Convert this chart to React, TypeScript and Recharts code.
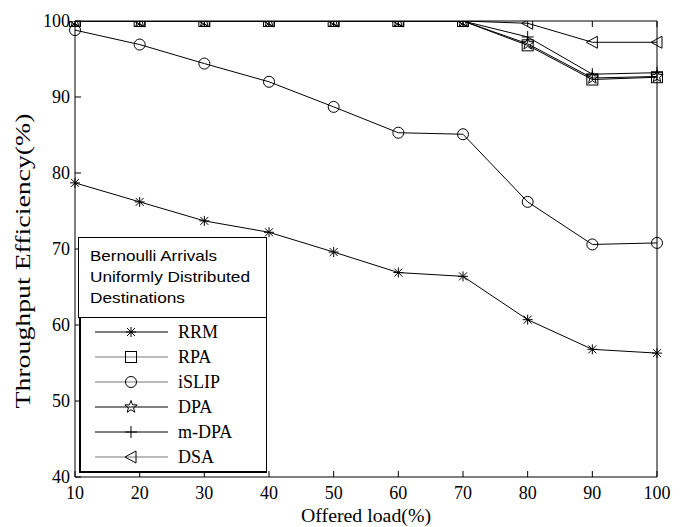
import { LineChart, Line, XAxis, YAxis } from 'recharts';

const loads = [10, 20, 30, 40, 50, 60, 70, 80, 90, 100];
const rrm = [78.7, 76.2, 73.7, 72.2, 69.6, 66.9, 66.4, 60.7, 56.8, 56.3];
const rpa = [100, 100, 100, 100, 100, 100, 100, 96.8, 92.3, 92.6];
const islip = [98.8, 96.9, 94.4, 92.0, 88.7, 85.3, 85.1, 76.2, 70.6, 70.8];
const dpa = [100, 100, 100, 100, 100, 100, 100, 97.0, 92.5, 92.7];
const mdpa = [100, 100, 100, 100, 100, 100, 100, 97.9, 93.0, 93.2];
const dsa = [100, 100, 100, 100, 100, 100, 100, 99.7, 97.2, 97.2];

const xTicks = [10, 20, 30, 40, 50, 60, 70, 80, 90, 100];
const yTicks = [40, 50, 60, 70, 80, 90, 100];

const legendNote = ['Bernoulli Arrivals', 'Uniformly Distributed', 'Destinations'];
const noteWidths = [127, 160, 95];

type Shape = 'star' | 'square' | 'circle' | 'pentagram' | 'plus' | 'triangle';

const series: { key: string; name: string; values: number[]; shape: Shape; legendColor: string }[] = [
  { key: 'rrm', name: 'RRM', values: rrm, shape: 'star', legendColor: '#000' },
  { key: 'rpa', name: 'RPA', values: rpa, shape: 'square', legendColor: '#777' },
  { key: 'islip', name: 'iSLIP', values: islip, shape: 'circle', legendColor: '#777' },
  { key: 'dpa', name: 'DPA', values: dpa, shape: 'pentagram', legendColor: '#000' },
  { key: 'mdpa', name: 'm-DPA', values: mdpa, shape: 'plus', legendColor: '#000' },
  { key: 'dsa', name: 'DSA', values: dsa, shape: 'triangle', legendColor: '#777' },
];

const data = loads.map((load, i) => {
  const row: Record<string, number> = { load };
  series.forEach((s) => { row[s.key] = s.values[i]; });
  return row;
});

const SERIF = '"Times New Roman", "Liberation Serif", serif';
const SANS = 'Arial, "Liberation Sans", sans-serif';
const TICK = 6;

function marker(shape: Shape, cx: number, cy: number, key?: string | number) {
  const st = { stroke: '#000', strokeWidth: 1, fill: 'none' };
  switch (shape) {
    case 'star':
      return (
        <g key={key} {...st}>
          <line x1={cx - 5} y1={cy} x2={cx + 5} y2={cy} />
          <line x1={cx} y1={cy - 5} x2={cx} y2={cy + 5} />
          <line x1={cx - 4} y1={cy - 4} x2={cx + 4} y2={cy + 4} />
          <line x1={cx - 4} y1={cy + 4} x2={cx + 4} y2={cy - 4} />
        </g>
      );
    case 'square':
      return <rect key={key} x={cx - 5.5} y={cy - 5.5} width={11} height={11} {...st} />;
    case 'circle':
      return <circle key={key} cx={cx} cy={cy} r={5.5} {...st} />;
    case 'pentagram': {
      const pts: string[] = [];
      for (let k = 0; k < 10; k++) {
        const r = k % 2 === 0 ? 6.5 : 2.7;
        const a = -Math.PI / 2 + (k * Math.PI) / 5;
        pts.push(`${cx + r * Math.cos(a)},${cy + r * Math.sin(a)}`);
      }
      return <polygon key={key} points={pts.join(' ')} {...st} />;
    }
    case 'plus':
      return (
        <g key={key} {...st}>
          <line x1={cx - 6} y1={cy} x2={cx + 6} y2={cy} />
          <line x1={cx} y1={cy - 6} x2={cx} y2={cy + 6} />
        </g>
      );
    case 'triangle':
      return <polygon key={key} points={`${cx - 6},${cy} ${cx + 5},${cy - 6} ${cx + 5},${cy + 6}`} {...st} />;
  }
}

const BottomTick = ({ x, y, payload }: any) => (
  <g>
    <line x1={x} y1={y} x2={x} y2={y - TICK} stroke="#000" />
    <text x={x} y={y + 22} textAnchor="middle" fontFamily={SERIF} fontSize={18} fill="#000">{payload.value}</text>
  </g>
);
const TopTick = ({ x, y }: any) => <line x1={x} y1={y} x2={x} y2={y + TICK} stroke="#000" />;
const LeftTick = ({ x, y, payload }: any) => (
  <g>
    <line x1={x} y1={y} x2={x + TICK} y2={y} stroke="#000" />
    <text x={x - 5} y={y + 6} textAnchor="end" fontFamily={SERIF} fontSize={18} fill="#000">{payload.value}</text>
  </g>
);
const RightTick = ({ x, y }: any) => <line x1={x} y1={y} x2={x - TICK} y2={y} stroke="#000" />;

function LegendOverlay() {
  return (
    <>
      <div style={{ position: 'absolute', left: 78, top: 237, width: 189, height: 81, border: '1px solid #000', background: '#fff', boxSizing: 'border-box' }}>
        <svg width={187} height={79} style={{ display: 'block' }}>
          {legendNote.map((t, i) => (
            <text key={t} x={11} y={23 + i * 21} fontFamily={SANS} fontSize={15} fill="#000" textLength={noteWidths[i]} lengthAdjust="spacingAndGlyphs">{t}</text>
          ))}
        </svg>
      </div>
      <div style={{ position: 'absolute', left: 79, top: 317, width: 188, height: 156, borderTop: '1px solid #000', borderRight: '1px solid #000', borderLeft: '2px solid #000', borderBottom: '2px solid #000', background: '#fff', boxSizing: 'border-box' }}>
        <svg width={186} height={154} style={{ display: 'block' }}>
          {series.map((s, i) => {
            const cy = 14 + i * 25;
            return (
              <g key={s.key}>
                <line x1={14} y1={cy} x2={87} y2={cy} stroke={s.legendColor} strokeWidth={1} />
                {marker(s.shape, 50, cy)}
                <text x={97} y={cy + 6} fontFamily={SERIF} fontSize={18} fill="#000">{s.name}</text>
              </g>
            );
          })}
        </svg>
      </div>
    </>
  );
}

export default function App() {
  return (
    <div style={{ position: 'absolute', left: 0, top: 0, width: 689, height: 527, background: '#fff' }}>
      <LineChart width={689} height={527} data={data} margin={{ top: 20, right: 31, bottom: 49, left: 74 }}>
        <XAxis
          dataKey="load" type="number" domain={[10, 100]} ticks={xTicks} height={1}
          axisLine={{ stroke: '#000' }} tickLine={false} tickSize={0} tickMargin={0} tick={<BottomTick />}
          label={({ viewBox }: any) => (
            <text x={viewBox.x + viewBox.width / 2} y={viewBox.y + 45} textAnchor="middle" fontFamily={SERIF} fontSize={19} fill="#000" textLength={130} lengthAdjust="spacingAndGlyphs">Offered load(%)</text>
          )}
        />
        <XAxis
          xAxisId="top" orientation="top" dataKey="load" type="number" domain={[10, 100]} ticks={xTicks} height={1}
          axisLine={{ stroke: '#000' }} tickLine={false} tickSize={0} tickMargin={0} tick={<TopTick />}
        />
        <YAxis
          type="number" domain={[40, 100]} ticks={yTicks} width={1} allowDataOverflow
          axisLine={{ stroke: '#000' }} tickLine={false} tickSize={0} tickMargin={0} tick={<LeftTick />}
          label={({ viewBox }: any) => {
            const cx = viewBox.x - 44;
            const cy = 261;
            return (
              <text x={cx} y={cy} transform={`rotate(-90 ${cx} ${cy})`} textAnchor="middle" fontFamily={SERIF} fontSize={20} fill="#000" textLength={295} lengthAdjust="spacingAndGlyphs">Throughput Efficiency(%)</text>
            );
          }}
        />
        <YAxis
          yAxisId="right" orientation="right" type="number" domain={[40, 100]} ticks={yTicks} width={1}
          axisLine={{ stroke: '#000' }} tickLine={false} tickSize={0} tickMargin={0} tick={<RightTick />}
        />
        {series.map((s) => (
          <Line
            key={s.key}
            dataKey={s.key}
            name={s.name}
            type="linear"
            stroke="#000"
            strokeWidth={1}
            isAnimationActive={false}
            dot={(p: any) => marker(s.shape, p.cx, p.cy, `${s.key}-${p.index}`)}
            activeDot={false}
          />
        ))}
      </LineChart>
      <LegendOverlay />
    </div>
  );
}
